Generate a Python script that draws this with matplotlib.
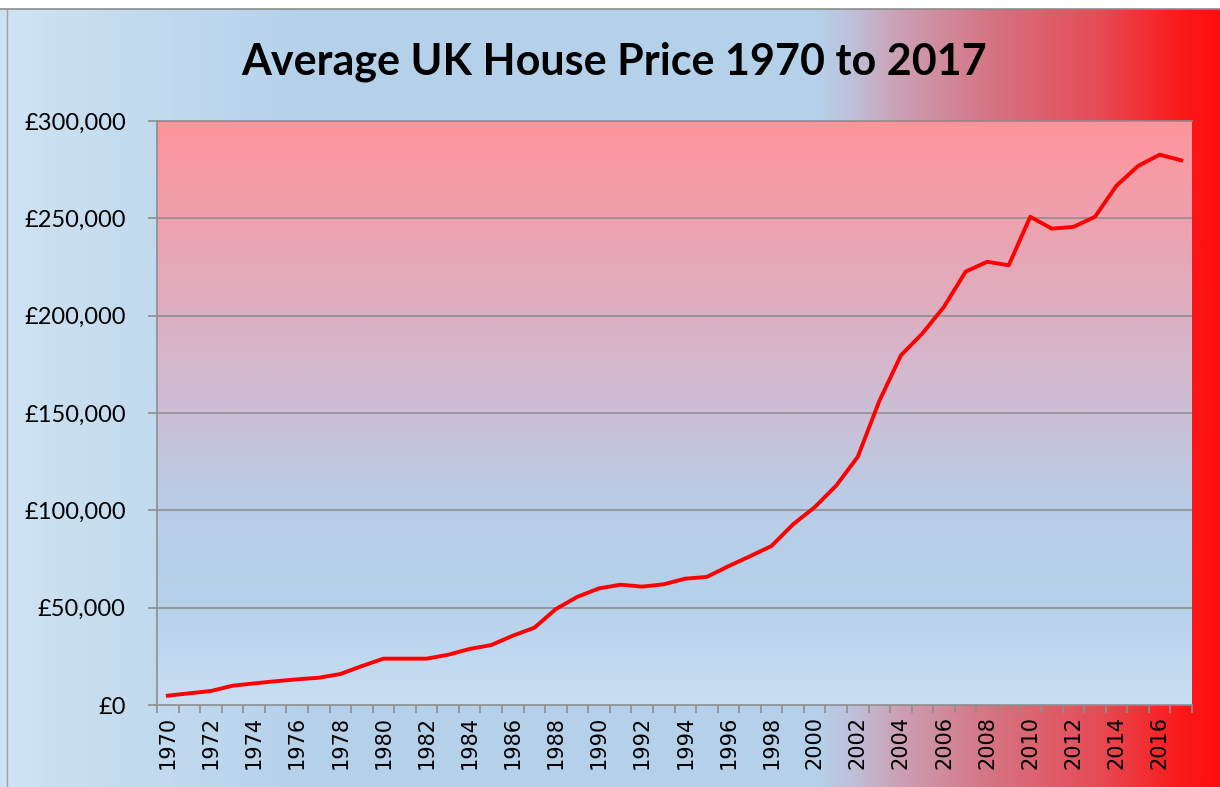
import numpy as np
import matplotlib
matplotlib.use("Agg")
import matplotlib.pyplot as plt
from matplotlib.colors import LinearSegmentedColormap
from matplotlib.ticker import FuncFormatter, FixedLocator

years = list(range(1970, 2018))
prices = [4800, 6000, 7200, 9900, 11100, 12200, 13200, 14000, 15900, 20000,
          23800, 23800, 23800, 25800, 28800, 30800, 35600, 39700, 49300, 55600,
          59900, 61800, 60800, 62000, 64900, 65800, 71300, 76400, 81700, 92800,
          101600, 112700, 127500, 156200, 179600, 190900, 204600, 222600, 227700, 225900,
          250800, 244700, 245600, 250800, 266800, 276900, 282700, 279800]
yticks = [0, 50000, 100000, 150000, 200000, 250000, 300000]
title = "Average UK House Price 1970 to 2017"

W, H = 1220, 787
fig = plt.figure(figsize=(W / 100, H / 100), dpi=100)
fig.patch.set_facecolor("white")

# figure background gradient (horizontal)
bg = fig.add_axes([0, 0, 1, 1], zorder=-5)
bg_cmap = LinearSegmentedColormap.from_list("bg", [
    (0.0, (0.81, 0.89, 0.95)),
    (0.25, (0.71, 0.82, 0.92)),
    (0.67, (0.71, 0.82, 0.92)),
    (0.70, (0.75, 0.75, 0.85)),
    (0.74, (0.80, 0.62, 0.70)),
    (0.82, (0.84, 0.44, 0.50)),
    (0.90, (0.90, 0.30, 0.34)),
    (0.97, (0.98, 0.10, 0.10)),
    (1.0, (1.0, 0.05, 0.05)),
])
grad = np.linspace(0, 1, 512).reshape(1, -1)
bg.imshow(grad, cmap=bg_cmap, aspect="auto", extent=[0, W, 0, H - 9])
bg.set_xlim(0, W)
bg.set_ylim(0, H)
bg.plot([0, W], [H - 9, H - 9], color="#8c8c8c", lw=1.2)
bg.plot([7, 7], [0, H - 9], color="#a0a0a0", lw=1.0)
bg.axis("off")

left, right, top, bottom = 157, 1192, 121, 705
ax = fig.add_axes([left / W, (H - bottom) / H, (right - left) / W, (bottom - top) / H])

n = len(years)
x = np.arange(n)
ax.set_xlim(-0.5, n - 0.5)
ax.set_ylim(0, 300000)

pa_cmap = LinearSegmentedColormap.from_list("pa", [
    (0.0, (0.79, 0.87, 0.95)),
    (0.18, (0.71, 0.82, 0.92)),
    (0.35, (0.73, 0.80, 0.90)),
    (0.55, (0.82, 0.73, 0.82)),
    (0.75, (0.90, 0.66, 0.72)),
    (1.0, (1.0, 0.58, 0.61)),
])
vgrad = np.linspace(0, 1, 512).reshape(-1, 1)
ax.imshow(vgrad, cmap=pa_cmap, aspect="auto", origin="lower",
          extent=[-0.5, n - 0.5, 0, 300000], zorder=0)

for yv in yticks[1:]:
    ax.axhline(yv, color="#8e8e8e", lw=1.2, zorder=1)

ax.plot(x, prices, color="#ff0000", lw=2.8, zorder=3, solid_joinstyle="round")

ax.set_yticks(yticks)
ax.yaxis.set_major_formatter(FuncFormatter(lambda v, p: "£{:,.0f}".format(v)))
ax.tick_params(axis="y", direction="out", length=6.5, color="#8e8e8e", width=1.2,
               labelsize=17, pad=16)
for lab in ax.get_yticklabels():
    lab.set_family("Lato")

ax.set_xticks(x[::2])
ax.set_xticklabels([str(y) for y in years[::2]], rotation=90, fontsize=15,
                   family="DejaVu Sans")
ax.tick_params(axis="x", which="major", length=0, pad=8)
ax.xaxis.set_minor_locator(FixedLocator(np.arange(-0.5, n, 1.0)))
ax.tick_params(axis="x", which="minor", direction="out", length=6, color="#8e8e8e", width=1.2)

ax.spines["right"].set_visible(False)
for s in ["top", "left", "bottom"]:
    ax.spines[s].set_color("#8e8e8e")
    ax.spines[s].set_linewidth(1.2)

fig.text(614 / W, 1 - 62 / H, title, ha="center", va="center", fontsize=31,
         fontweight="bold", family="Lato")

fig.savefig("out.png", dpi=100)
